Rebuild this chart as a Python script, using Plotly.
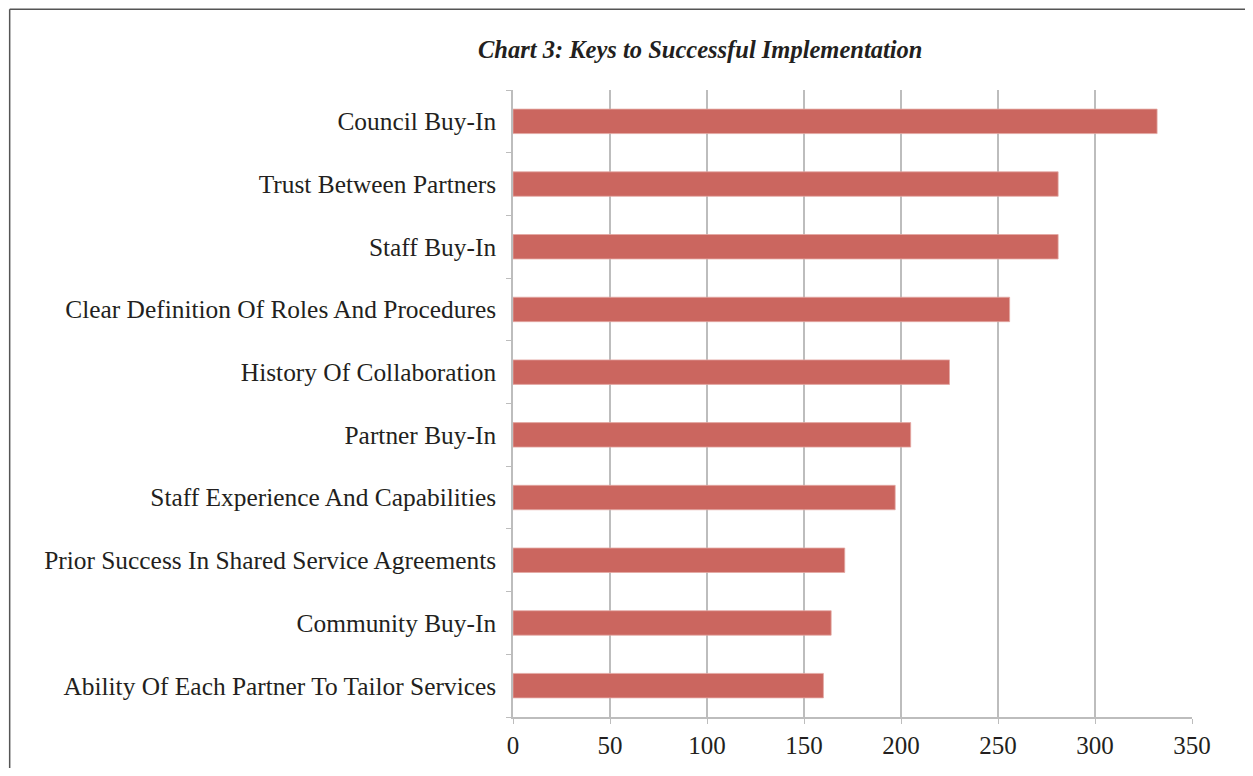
import plotly.graph_objects as go

categories = [
    "Council Buy-In",
    "Trust Between Partners",
    "Staff Buy-In",
    "Clear Definition Of Roles And Procedures",
    "History Of Collaboration",
    "Partner Buy-In",
    "Staff Experience And Capabilities",
    "Prior Success In Shared Service Agreements",
    "Community Buy-In",
    "Ability Of Each Partner To Tailor Services",
]
values = [332, 281, 281, 256, 225, 205, 197, 171, 164, 160]
x_ticks = [0, 50, 100, 150, 200, 250, 300, 350]
title_text = "Chart 3: Keys to Successful Implementation"

# page body has an 8px margin; figure origin sits at (8, 8) of the window
OFF = 8
W, H = 1253 - OFF, 776 - 2 * OFF
L, T = 512.5 - OFF, 89.6 - OFF
R = W - (1192 - OFF)
B = H - (717.4 - OFF)
pw, ph = W - L - R, H - T - B

fig = go.Figure(
    go.Bar(
        x=values,
        y=categories,
        orientation="h",
        width=0.39,
        marker=dict(color="#CB665F", line=dict(color="#E3A8A3", width=0.8)),
    )
)

font_family = "Liberation Serif, Times New Roman, serif"

frame_x = (0.8 - L) / pw
frame_y = 1 + (T - 0.8) / ph
frame_line = dict(color="#555555", width=1.5)

fig.update_layout(
    width=W,
    height=H,
    margin=dict(l=L, r=R, t=T, b=B, autoexpand=False),
    paper_bgcolor="white",
    plot_bgcolor="white",
    showlegend=False,
    font=dict(family=font_family, size=25, color="#231F20"),
    xaxis=dict(
        range=[0, 350],
        tickvals=x_ticks,
        ticktext=[str(v) for v in x_ticks],
        showgrid=True,
        gridcolor="#BDBDBD",
        gridwidth=1.6,
        showline=True,
        linecolor="#BDBDBD",
        linewidth=1.6,
        ticks="outside",
        ticklen=5,
        tickcolor="#BDBDBD",
        tickwidth=1.3,
        zeroline=False,
        tickfont=dict(family=font_family, size=25, color="#231F20"),
    ),
    yaxis=dict(
        categoryorder="array",
        categoryarray=categories[::-1],
        showline=True,
        linecolor="#BDBDBD",
        linewidth=1.6,
        ticks="outside",
        tickson="boundaries",
        ticklen=5,
        tickcolor="#BDBDBD",
        tickwidth=1.3,
        showgrid=False,
        ticklabelstandoff=10,
        tickfont=dict(family=font_family, size=25.4, color="#231F20"),
    ),
    annotations=[
        dict(
            text="<b><i>" + title_text + "</i></b>",
            xref="paper",
            yref="paper",
            x=(700 - OFF - L) / pw,
            y=1 + (T - (49 - OFF)) / ph,
            xanchor="center",
            yanchor="middle",
            showarrow=False,
            font=dict(family=font_family, size=24.5, color="#231F20"),
        )
    ],
    shapes=[
        dict(type="line", xref="paper", yref="paper",
             x0=frame_x, x1=1.6, y0=frame_y, y1=frame_y,
             line=frame_line, layer="below"),
        dict(type="line", xref="paper", yref="paper",
             x0=frame_x, x1=frame_x, y0=-0.5, y1=frame_y,
             line=frame_line, layer="below"),
    ],
)

fig.write_html("out.html")
